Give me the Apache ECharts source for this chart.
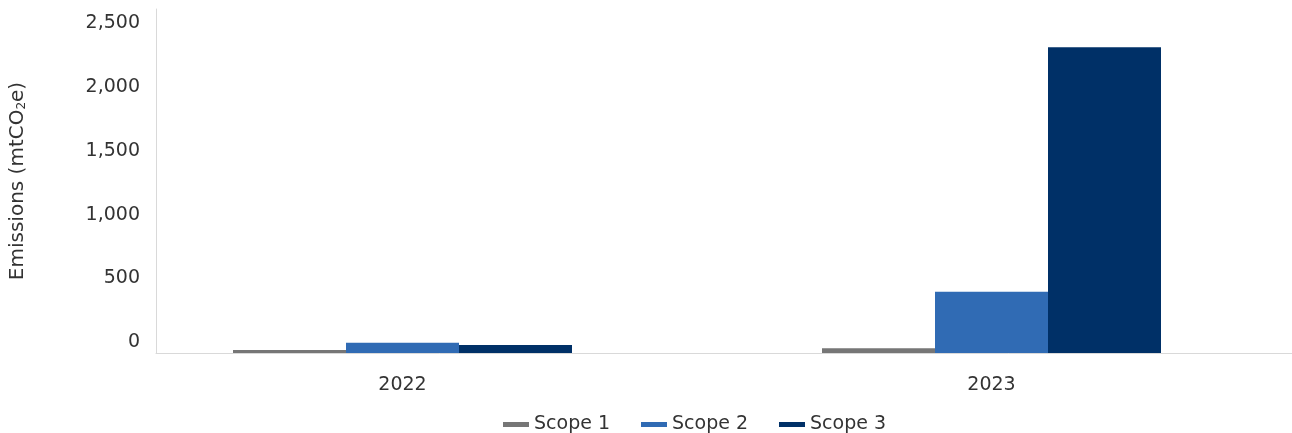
<!DOCTYPE html>
<html>
<head>
<meta charset="utf-8">
<script src="https://cdn.jsdelivr.net/npm/echarts@6/dist/echarts.min.js"></script>
<style>
html,body{margin:0;padding:0;background:#fff;}
#main{width:1292px;height:433px;}
</style>
</head>
<body>
<div id="main"></div>
<script>
var myChart = echarts.init(document.getElementById('main'));

var years = ['2022', '2023'];
var scope1 = [23, 37];
var scope2 = [80, 480];
var scope3 = [62, 2400];
var seriesNames = ['Scope 1', 'Scope 2', 'Scope 3'];
var colors = ['#767676', '#306BB4', '#003067'];

var font = 'DejaVu Sans';
var textColor = '#333333';

var option = {
    textStyle: {fontFamily: font},
    legend: {
        top: 410,
        left: 498,
        icon: 'rect',
        itemWidth: 26,
        itemHeight: 5,
        itemGap: 31,
        textStyle: {fontSize: 19, color: textColor, fontFamily: font},
        data: seriesNames
    },
    grid: [
        {left: 108, right: 6, top: 9, bottom: 80},
        {left: 156, right: 0, top: 9, bottom: 80}
    ],
    xAxis: [{
        type: 'category',
        gridIndex: 0,
        data: years,
        axisLine: {show: false},
        axisTick: {show: false},
        axisLabel: {fontSize: 19, color: textColor, margin: 23}
    }, {
        // 只用来画底部轴线
        type: 'value',
        gridIndex: 1,
        min: 0,
        max: 1,
        axisLine: {show: true, lineStyle: {color: '#d9d9d9', width: 1}},
        axisTick: {show: false},
        axisLabel: {show: false},
        splitLine: {show: false}
    }],
    yAxis: [{
        type: 'value',
        gridIndex: 0,
        min: 0,
        max: 2700,
        interval: 500,
        offset: -48,
        name: 'Emissions (mtCO{sub|2}e)',
        nameLocation: 'middle',
        nameGap: 128,
        nameTextStyle: {
            fontSize: 20,
            color: textColor,
            rich: {sub: {fontSize: 12, verticalAlign: 'bottom', padding: [8, 0, 0, 0], color: textColor}}
        },
        axisLine: {show: true, lineStyle: {color: '#d9d9d9', width: 1}},
        axisTick: {show: false},
        splitLine: {show: false},
        axisLabel: {
            fontSize: 19,
            color: textColor,
            margin: 16,
            verticalAlign: 'bottom',
            lineHeight: 22,
            showMaxLabel: false,
            formatter: function (v) { return v.toLocaleString('en-US'); }
        }
    }, {
        type: 'value',
        gridIndex: 1,
        show: false
    }],
    series: [{
        name: seriesNames[0],
        type: 'bar',
        barWidth: 113,
        barGap: 0,
        itemStyle: {color: colors[0]},
        data: scope1
    }, {
        name: seriesNames[1],
        type: 'bar',
        barWidth: 113,
        barGap: 0,
        itemStyle: {color: colors[1]},
        data: scope2
    }, {
        name: seriesNames[2],
        type: 'bar',
        barWidth: 113,
        barGap: 0,
        itemStyle: {color: colors[2]},
        data: scope3
    }]
};
myChart.setOption(option);
</script>
</body>
</html>
